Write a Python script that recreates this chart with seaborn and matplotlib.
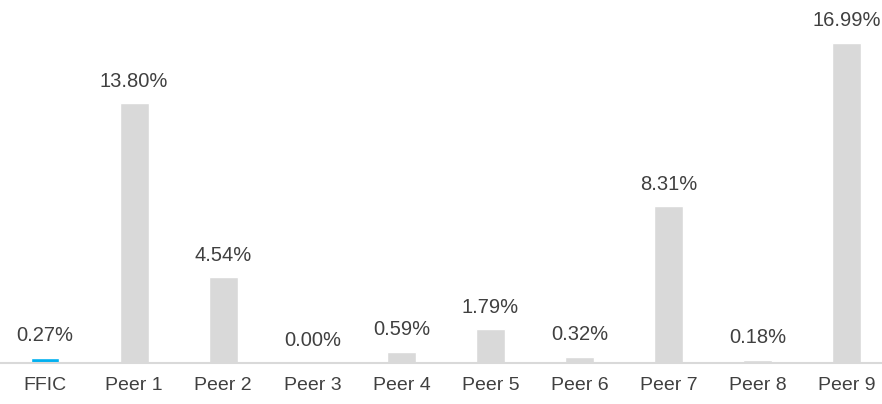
import matplotlib
matplotlib.use("Agg")
import matplotlib.pyplot as plt
import seaborn as sns
import pandas as pd

# Data
categories = ["FFIC", "Peer 1", "Peer 2", "Peer 3", "Peer 4", "Peer 5", "Peer 6", "Peer 7", "Peer 8", "Peer 9"]
values = [0.27, 13.80, 4.54, 0.00, 0.59, 1.79, 0.32, 8.31, 0.18, 16.99]
bar_colors = ["#00b0f0"] + ["#d9d9d9"] * 9

sns.set_style("white")
plt.rcParams['font.family'] = ['Liberation Sans Narrow', 'Liberation Sans', 'DejaVu Sans']

df = pd.DataFrame({"name": categories, "value": values})

fig = plt.figure(figsize=(8.82, 4.04), dpi=100)
ax = fig.add_axes([0, 0.1015, 1, 0.8985])

sns.barplot(data=df, x="name", y="value", hue="name", palette=bar_colors,
            width=0.325, legend=False, ax=ax, saturation=1)

for i, v in enumerate(values):
    ax.annotate(f"{v:.2f}%", (i, v), xytext=(0, 9), textcoords="offset points",
                ha="center", va="bottom", fontsize=14.5, color="#404040")

ax.set_xlim(-0.505, 9.393)
ax.set_ylim(0, 19.27)
ax.set_xlabel("")
ax.set_ylabel("")
ax.set_yticks([])
for s in ["top", "right", "left"]:
    ax.spines[s].set_visible(False)
ax.spines["bottom"].set_color("#d9d9d9")
ax.spines["bottom"].set_linewidth(1.5)
ax.tick_params(axis="x", length=0, pad=10, labelsize=14, labelcolor="#404040")

fig.savefig("out.png", dpi=100)
